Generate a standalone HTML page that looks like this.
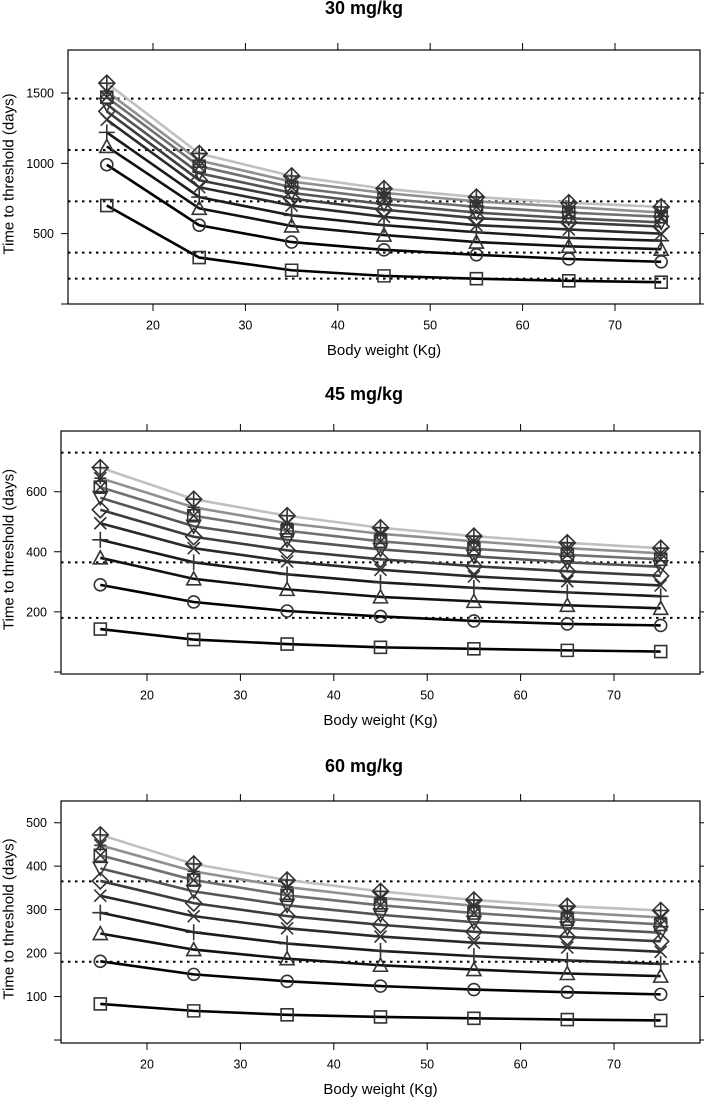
<!DOCTYPE html>
<html><head><meta charset="utf-8">
<style>
html,body{margin:0;padding:0;background:#fff;}
svg{display:block;font-family:"Liberation Sans",Arial,sans-serif;}
</style></head>
<body>
<svg id="chart" width="708" height="1099" viewBox="0 0 708 1099" xmlns="http://www.w3.org/2000/svg"></svg>
<script>
const weights = [15, 25, 35, 45, 55, 65, 75];
const xTicks = [20, 30, 40, 50, 60, 70];
const panelTitles = ["30 mg/kg", "45 mg/kg", "60 mg/kg"];
const yTicks30 = [500, 1000, 1500];
const yTicks45 = [200, 400, 600];
const yTicks60 = [100, 200, 300, 400, 500];
const yAxisTicks30 = [0, 500, 1000, 1500];
const yAxisTicks45 = [0, 200, 400, 600];
const yAxisTicks60 = [0, 100, 200, 300, 400, 500];
const refLines30 = [1460, 1095, 730, 365, 180];
const refLines45 = [730, 365, 180];
const refLines60 = [365, 180];
const series30 = [
 [700, 330, 240, 200, 180, 165, 155],
 [990, 560, 440, 385, 350, 320, 300],
 [1120, 680, 555, 490, 440, 410, 390],
 [1220, 760, 630, 560, 510, 470, 450],
 [1310, 830, 700, 620, 560, 530, 500],
 [1370, 880, 750, 670, 610, 580, 550],
 [1420, 930, 790, 710, 650, 610, 580],
 [1470, 980, 830, 750, 690, 650, 620],
 [1510, 1020, 870, 790, 730, 690, 650],
 [1570, 1070, 910, 820, 760, 720, 690]
];
const series45 = [
 [143, 108, 93, 82, 77, 72, 68],
 [290, 233, 203, 185, 170, 160, 155],
 [380, 310, 275, 250, 235, 222, 212],
 [440, 365, 325, 298, 280, 265, 252],
 [495, 412, 368, 340, 318, 302, 288],
 [540, 450, 405, 375, 352, 335, 320],
 [580, 485, 440, 408, 385, 365, 350],
 [615, 520, 470, 435, 410, 390, 375],
 [645, 548, 495, 460, 435, 412, 395],
 [680, 575, 520, 480, 452, 430, 412]
];
const series60 = [
 [83, 67, 58, 53, 50, 47, 45],
 [181, 151, 135, 124, 116, 110, 105],
 [245, 208, 187, 172, 162, 153, 147],
 [293, 248, 222, 205, 193, 183, 175],
 [332, 285, 257, 238, 224, 213, 203],
 [366, 315, 285, 265, 249, 237, 227],
 [395, 342, 310, 288, 271, 258, 247],
 [425, 368, 333, 310, 292, 278, 266],
 [448, 388, 352, 327, 309, 294, 282],
 [472, 405, 368, 342, 322, 308, 298]
];
const seriesNames = ["square","circle","triangle","plus","cross","diamond","nabla","boxcross","asterisk","diamondplus"];
const lineColors = ["#000","#000","#111","#1a1a1a","#2a2a2a","#3c3c3c","#555","#707070","#909090","#c0c0c0"];

const NS = "http://www.w3.org/2000/svg";
const svg = document.getElementById("chart");
function mk(tag, attrs, parent){
  const e = document.createElementNS(NS, tag);
  for (const k in attrs) e.setAttribute(k, attrs[k]);
  (parent||svg).appendChild(e);
  return e;
}

const panels = [
 {title: panelTitles[0], data: series30, ticks: yTicks30, axTicks: yAxisTicks30, refs: refLines30,
  left:68, right:700, top:50, bottom:304, x20:153, x70:615, yVal0:0, yPix0:304, yVal1:1500, yPix1:93, titleY:14},
 {title: panelTitles[1], data: series45, ticks: yTicks45, axTicks: yAxisTicks45, refs: refLines45,
  left:61, right:700, top:431, bottom:674, x20:147, x70:614, yVal0:0, yPix0:672, yVal1:600, yPix1:491.7, titleY:400},
 {title: panelTitles[2], data: series60, ticks: yTicks60, axTicks: yAxisTicks60, refs: refLines60,
  left:61, right:700, top:801, bottom:1043, x20:147, x70:614, yVal0:0, yPix0:1040, yVal1:500, yPix1:822.7, titleY:772}
];

function drawSymbol(g, type, cx, cy){
  const s = 6, st = {fill:"none", stroke:"#333", "stroke-width":1.6};
  const P = (d)=>{ const p = mk("path", Object.assign({d:d}, st), g); return p; };
  switch(type){
    case "square": P(`M${cx-s} ${cy-s}h${2*s}v${2*s}h${-2*s}z`); break;
    case "circle": mk("circle", Object.assign({cx:cx, cy:cy, r:s}, st), g); break;
    case "triangle": P(`M${cx} ${cy-s-1}L${cx+s+1} ${cy+s}L${cx-s-1} ${cy+s}z`); break;
    case "plus": P(`M${cx-s-2} ${cy}h${2*s+4}M${cx} ${cy-s-2}v${2*s+4}`); break;
    case "cross": P(`M${cx-s} ${cy-s}L${cx+s} ${cy+s}M${cx+s} ${cy-s}L${cx-s} ${cy+s}`); break;
    case "diamond": P(`M${cx} ${cy-s-2}L${cx+s+2} ${cy}L${cx} ${cy+s+2}L${cx-s-2} ${cy}z`); break;
    case "nabla": P(`M${cx} ${cy+s+1}L${cx+s+1} ${cy-s}L${cx-s-1} ${cy-s}z`); break;
    case "boxcross": P(`M${cx-s} ${cy-s}h${2*s}v${2*s}h${-2*s}zM${cx-s} ${cy-s}L${cx+s} ${cy+s}M${cx+s} ${cy-s}L${cx-s} ${cy+s}`); break;
    case "asterisk": P(`M${cx-s} ${cy}h${2*s}M${cx} ${cy-s}v${2*s}M${cx-s} ${cy-s}L${cx+s} ${cy+s}M${cx+s} ${cy-s}L${cx-s} ${cy+s}`); break;
    case "diamondplus": P(`M${cx} ${cy-s-2}L${cx+s+2} ${cy}L${cx} ${cy+s+2}L${cx-s-2} ${cy}zM${cx-s-2} ${cy}h${2*s+4}M${cx} ${cy-s-2}v${2*s+4}`); break;
  }
}

panels.forEach((p, pi) => {
  const xs = v => p.x20 + (v - 20) * (p.x70 - p.x20) / 50;
  const ys = v => p.yPix0 + (v - p.yVal0) * (p.yPix1 - p.yPix0) / (p.yVal1 - p.yVal0);
  const g = mk("g", {});
  
  

  const t = mk("text", {x:364, y:p.titleY, "text-anchor":"middle", "font-size":18, "font-weight":"bold", fill:"#000"}, g);
  t.textContent = p.title;
  
  

  const box = mk("rect", {x:p.left, y:p.top, width:p.right-p.left, height:p.bottom-p.top, fill:"none", stroke:"#000", "stroke-width":1.2}, g);
  
  

  xTicks.forEach(v => {
    const x = xs(v);
    const tk = mk("path", {d:`M${x} ${p.bottom}v7M${x} ${p.top}v-7`, stroke:"#000", "stroke-width":1}, g);
    
    
    const lb = mk("text", {x:x, y:p.bottom+25.5, "text-anchor":"middle", "font-size":12.5, fill:"#000"}, g);
    lb.textContent = v;
    
    
  });
  p.axTicks.forEach(v => {
    const y = ys(v);
    const tk = mk("path", {d:`M${p.left} ${y}h-7M${p.right} ${y}h4`, stroke:"#000", "stroke-width":1}, g);
    
    
  });
  p.ticks.forEach(v => {
    const lb = mk("text", {x:p.left-14, y:ys(v)+4.5, "text-anchor":"end", "font-size":12.5, fill:"#000"}, g);
    lb.textContent = v;
    
    
  });
  const xl = mk("text", {x:(p.left+p.right)/2, y:p.bottom+51, "text-anchor":"middle", "font-size":15, fill:"#000"}, g);
  xl.textContent = "Body weight (Kg)";
  
  
  const cy = (p.top+p.bottom)/2 - 3;
  const yl = mk("text", {x:8, y:cy, "text-anchor":"middle", "font-size":15, fill:"#000", transform:`rotate(-90 8 ${cy})`, dy:"0.35em"}, g);
  yl.textContent = "Time to threshold (days)";
  
  

  p.refs.forEach(v => {
    const y = ys(v);
    const l = mk("line", {x1:p.left, x2:p.right, y1:y, y2:y, stroke:"#000", "stroke-width":2, "stroke-dasharray":"2.5 4.5"}, g);
    
    
  });

  p.data.forEach((vals, si) => {
    const d = vals.map((v,i) => (i?"L":"M") + xs(weights[i]) + " " + ys(v)).join("");
    const ln = mk("path", {d:d, fill:"none", stroke:lineColors[si], "stroke-width":2.6, "stroke-linejoin":"round"}, g);
    
    
  });
  p.data.forEach((vals, si) => {
    const sg = mk("g", {}, g);
    
    
    vals.forEach((v,i) => drawSymbol(sg, seriesNames[si], xs(weights[i]), ys(v)));
  });
});
</script>
</body></html>
